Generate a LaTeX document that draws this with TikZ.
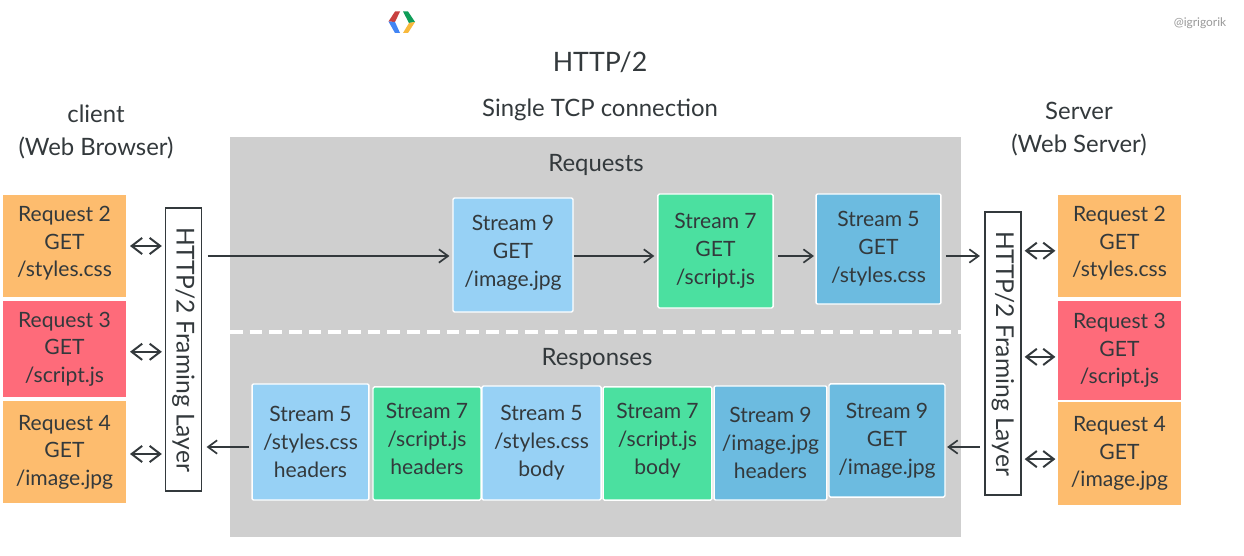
\documentclass[tikz,border=0pt]{standalone}
\usepackage{fontspec}
\usepackage{xcolor}
\usetikzlibrary{arrows.meta}
\setmainfont{Lato}
\definecolor{inkgrey}{HTML}{33393C}
\definecolor{panelgrey}{HTML}{CFCFCF}
\definecolor{reqorange}{HTML}{FDBC6E}
\definecolor{reqred}{HTML}{FE6B7A}
\definecolor{strblue}{HTML}{97D1F5}
\definecolor{strgreen}{HTML}{4BE0A0}
\definecolor{strdeep}{HTML}{6CBBE0}
\definecolor{logored}{HTML}{C8403F}
\definecolor{logoblue}{HTML}{4285F4}
\definecolor{logogreen}{HTML}{0F9D58}
\definecolor{logoyellow}{HTML}{F8B93C}
\tikzset{
  headtext/.style={text=inkgrey, font=\fontsize{17}{21}\selectfont},
  reqbox/.style={minimum width=3.05cm, minimum height=2.55cm, inner sep=0pt, align=center,
    text=inkgrey, font=\fontsize{15}{19.5}\selectfont},
  strbox/.style={draw=white, line width=1pt, rounded corners=1pt, inner sep=0pt, align=center,
    text=inkgrey, font=\fontsize{15}{20}\selectfont},
  framebox/.style={draw=inkgrey, fill=white, line width=1.2pt, minimum width=0.9cm,
    minimum height=7.08cm, inner sep=0pt, text=inkgrey, font=\fontsize{17.5}{19}\selectfont},
  flow/.style={draw=inkgrey, line width=1.2pt, -{Straight Barb[length=6.5pt,width=9.5pt]}},
  both/.style={draw=inkgrey, line width=1.4pt, {Straight Barb[length=7.5pt,width=11.5pt]}-{Straight Barb[length=7.5pt,width=11.5pt]}},
  raised/.style={text depth=0.22cm}
}
\begin{document}
\begin{tikzpicture}[x=0.025cm, y=-0.025cm]
  \useasboundingbox (0,0) rectangle (1244,556);
  \fill[white] (0,0) rectangle (1244,556);

  % logo
  \fill[logored] (395,11.5) -- (400,11.5) -- (395,22) -- (388.5,21.5) -- cycle;
  \fill[logoblue] (388.5,21.5) -- (395,22) -- (400,33) -- (395,33) -- cycle;
  \fill[logogreen] (403,11.5) -- (408,11.5) -- (415,22) -- (409,23) -- cycle;
  \fill[logoyellow] (409,23) -- (415,22) -- (408,33) -- (403,33) -- cycle;
  \node[text=gray!80, font=\fontsize{8.5}{10}\selectfont] (handle) at (1200,23) {@igrigorik};

  % titles
  \node[headtext, font=\fontsize{19}{21}\selectfont] (title) at (600,62) {HTTP/2};
  \node[headtext] (single) at (600,110) {Single TCP connection};
  \node[headtext, align=center] (client) at (96,132) {client\\[3pt](Web Browser)};
  \node[headtext, align=center] (server) at (1079,129) {Server\\[3pt](Web Server)};

  % panel
  \fill[panelgrey] (230,137) rectangle (961,537);
  \draw[white, line width=2.2pt, dash pattern=on 9pt off 5pt] (230,332) -- (961,332);
  \node[headtext] (requests) at (596,165) {Requests};
  \node[headtext] (responses) at (597,359) {Responses};

  % client side
  \node[reqbox, raised, fill=reqorange] (creq2) at (64.5,246) {Request 2\\GET\\/styles.css};
  \node[reqbox, fill=reqred, minimum height=2.4cm] (creq3) at (64.5,349) {Request 3\\GET\\/script.js};
  \node[reqbox, fill=reqorange] (creq4) at (64.5,452) {Request 4\\GET\\/image.jpg};
  \node[framebox] (cframe) at (183.5,349.5) {\rotatebox{-90}{HTTP/2 Framing Layer}};

  % server side
  \node[reqbox, raised, fill=reqorange] (sreq2) at (1119.5,246) {Request 2\\GET\\/styles.css};
  \node[reqbox, fill=reqred, minimum height=2.47cm] (sreq3) at (1119.5,350.5) {Request 3\\GET\\/script.js};
  \node[reqbox, fill=reqorange] (sreq4) at (1119.5,453.5) {Request 4\\GET\\/image.jpg};
  \node[framebox] (sframe) at (1003,353.5) {\rotatebox{-90}{HTTP/2 Framing Layer}};

  % requests row
  \node[strbox, raised, fill=strblue, minimum width=3cm, minimum height=2.85cm] (req9) at (513,255) {Stream 9\\GET\\/image.jpg};
  \node[strbox, fill=strgreen, minimum width=2.88cm, minimum height=2.85cm] (req7) at (715.5,251) {Stream 7\\GET\\/script.js};
  \node[strbox, fill=strdeep, minimum width=3.12cm, minimum height=2.75cm] (req5) at (878.5,249) {Stream 5\\GET\\/styles.css};

  % responses row
  \node[strbox, fill=strblue, minimum width=2.92cm, minimum height=2.9cm] (res1) at (310.5,442) {Stream 5\\/styles.css\\headers};
  \node[strbox, raised, fill=strgreen, minimum width=2.7cm, minimum height=2.83cm] (res2) at (427,443.5) {Stream 7\\/script.js\\headers};
  \node[strbox, fill=strblue, minimum width=2.98cm, minimum height=2.85cm] (res3) at (541.5,443) {Stream 5\\/styles.css\\body};
  \node[strbox, raised, fill=strgreen, minimum width=2.72cm, minimum height=2.83cm] (res4) at (657.5,443.5) {Stream 7\\/script.js\\body};
  \node[strbox, fill=strdeep, minimum width=2.82cm, minimum height=2.85cm] (res5) at (770.5,443) {Stream 9\\/image.jpg\\headers};
  \node[strbox, fill=strdeep, minimum width=2.9cm, minimum height=2.83cm] (res6) at (887,440.5) {Stream 9\\GET\\/image.jpg};

  % connectors
  \coordinate (upline) at (0,256);
  \coordinate (downline) at (0,447);
  \draw[flow, shorten <=4pt, shorten >=2pt] (cframe.east |- upline) -- (req9.west |- upline);
  \draw[flow, shorten >=2pt] (req9.east |- upline) -- (req7.west |- upline);
  \draw[flow, shorten <=3pt, shorten >=1pt] (req7.east |- upline) -- (req5.west |- upline);
  \draw[flow, shorten <=3pt, shorten >=3pt] (req5.east |- upline) -- (sframe.west |- upline);
  \draw[flow, shorten <=2pt, shorten >=3pt] (res1.west |- downline) -- (cframe.east |- downline);
  \draw[flow, shorten <=3pt, shorten >=1pt] (sframe.west |- downline) -- (res6.east |- downline);

  \draw[both, shorten <=3pt, shorten >=2pt] (creq2.east) -- (cframe.west |- creq2.east);
  \draw[both, shorten <=3pt, shorten >=2pt] ([yshift=-0.07cm]creq3.east) -- ([yshift=-0.07cm]cframe.west |- creq3.east);
  \draw[both, shorten <=3pt, shorten >=2pt] ([yshift=-0.05cm]creq4.east) -- ([yshift=-0.05cm]cframe.west |- creq4.east);
  \draw[both, shorten <=2pt, shorten >=2pt] ([yshift=-0.12cm]sframe.east |- sreq2.west) -- ([yshift=-0.12cm]sreq2.west);
  \draw[both, shorten <=2pt, shorten >=2pt] ([yshift=-0.16cm]sframe.east |- sreq3.west) -- ([yshift=-0.16cm]sreq3.west);
  \draw[both, shorten <=2pt, shorten >=2pt] ([yshift=-0.14cm]sframe.east |- sreq4.west) -- ([yshift=-0.14cm]sreq4.west);
\end{tikzpicture}
\end{document}
